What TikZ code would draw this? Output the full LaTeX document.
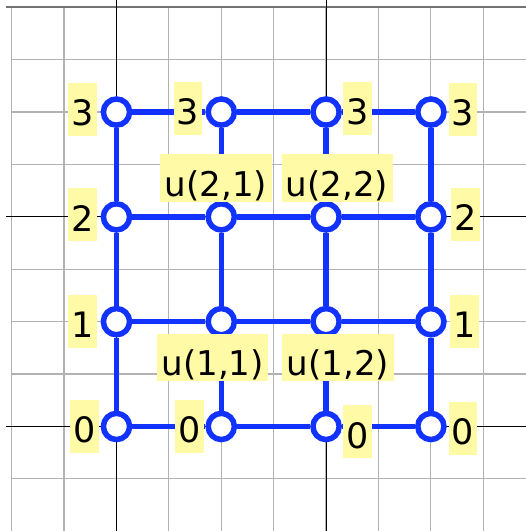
\documentclass[tikz,border=0pt]{standalone}
\usepackage{fontspec}
\setmainfont{DejaVu Sans}
\usetikzlibrary{positioning}
\definecolor{netblue}{HTML}{1233FF}
\definecolor{lblfill}{HTML}{FFFAA6}
\tikzset{
  gridln/.style  = {draw=black!30, line width=0.65pt},
  gridtop/.style = {draw=black!55, line width=1.3pt},
  axisln/.style  = {draw=black, line width=0.5pt},
  vtx/.style     = {circle, draw=netblue, fill=white, line width=3pt,
                    minimum size=5mm, inner sep=0pt},
  edg/.style     = {draw=netblue, line width=2.9pt},
  numlbl/.style  = {fill=lblfill, inner sep=0pt, minimum width=5.5mm,
                    minimum height=10.1mm, font=\fontsize{19}{22}\selectfont,
                    text height=17.7pt, text depth=0pt},
  ulbl/.style    = {numlbl, minimum width=21.2mm, minimum height=9.1mm,
                    font=\fontsize{18.5}{21}\selectfont,
                    text height=20.8pt, text depth=0.9pt},
}
\begin{document}
\begin{tikzpicture}
  \useasboundingbox (-2.223,-1.995) rectangle (7.815,8.139);
  \clip (-2.223,-1.995) rectangle (7.815,8.139);
  % background grid
  \draw[gridln] (-2,-2) grid (8,8);
  \draw[gridtop] (-2.1,8) -- (8,8);
  \foreach \a in {0,4} {
    \draw[axisln] (\a,-2) -- (\a,8.2);
    \draw[axisln] (-2.1,\a) -- (8,\a);
  }
  % vertices
  \foreach \c in {0,...,3}
    \foreach \r in {0,...,3}
      \node[vtx] (v-\r-\c) at (2*\c,2*\r) {};
  % edges
  \foreach \c [evaluate=\c as \cn using int(\c+1)] in {0,1,2}
    \foreach \r in {0,...,3} {
      \draw[edg] (v-\r-\c) -- (v-\r-\cn);
      \draw[edg] (v-\c-\r) -- (v-\cn-\r);
    }
  % boundary values
  \node[numlbl, left=0.06cm of v-3-0, yshift=0.05cm] (l-3-0) {3};
  \node[numlbl, left=0.05cm of v-3-1, yshift=0.07cm] (l-3-1) {3};
  \node[numlbl, right=0.02cm of v-3-2, yshift=0.07cm] (l-3-2) {3};
  \node[numlbl, right=0.03cm of v-3-3, yshift=0.05cm] (l-3-3) {3};
  \node[numlbl, left=0.07cm of v-2-0, yshift=0.04cm] (l-2-0) {2};
  \node[numlbl, right=0.08cm of v-2-3, yshift=0.05cm] (l-2-3) {2};
  \node[numlbl, left=0.06cm of v-1-0] (l-1-0) {1};
  \node[numlbl, right=0.06cm of v-1-3] (l-1-3) {1};
  \node[numlbl, left=0.03cm of v-0-0] (l-0-0) {0};
  \node[numlbl, left=0.02cm of v-0-1] (l-0-1) {0};
  \node[numlbl, right=0.02cm of v-0-2, yshift=-0.1cm] (l-0-2) {0};
  \node[numlbl, right=0.03cm of v-0-3, yshift=-0.04cm] (l-0-3) {0};
  % unknowns
  \node[ulbl, above=-0.02cm of v-2-1, xshift=-0.1cm] (u-2-1) {u(2,1)};
  \node[ulbl, above=-0.02cm of v-2-2, xshift=0.21cm] (u-2-2) {u(2,2)};
  \node[ulbl, below=-0.08cm of v-1-1, xshift=-0.165cm] (u-1-1) {u(1,1)};
  \node[ulbl, below=-0.08cm of v-1-2, xshift=0.227cm] (u-1-2) {u(1,2)};
\end{tikzpicture}
\end{document}
